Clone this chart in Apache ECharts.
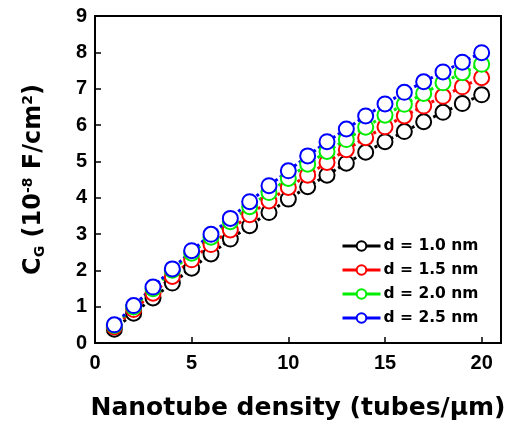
<!DOCTYPE html>
<html><head><meta charset="utf-8">
<script src="https://cdn.jsdelivr.net/npm/echarts@6/dist/echarts.min.js"></script>
<style>html,body{margin:0;padding:0;background:#fff}#c{width:509px;height:427px}</style>
</head><body><div id="c"></div>
<script>
const density = [1,2,3,4,5,6,7,8,9,10,11,12,13,14,15,16,17,18,19,20];
const d10 = [0.38,0.82,1.24,1.65,2.06,2.45,2.86,3.23,3.59,3.96,4.30,4.62,4.95,5.25,5.54,5.82,6.09,6.35,6.59,6.83];
const d15 = [0.44,0.92,1.37,1.83,2.29,2.71,3.11,3.53,3.91,4.28,4.62,4.97,5.32,5.65,5.95,6.25,6.52,6.79,7.05,7.30];
const d20 = [0.48,0.99,1.49,2.00,2.47,2.91,3.34,3.75,4.14,4.53,4.92,5.27,5.60,5.94,6.27,6.57,6.87,7.16,7.44,7.67];
const d25 = [0.50,1.03,1.54,2.04,2.54,2.99,3.43,3.89,4.33,4.74,5.15,5.54,5.89,6.25,6.58,6.90,7.19,7.46,7.73,7.99];
const seriesNames = ['d = 1.0 nm','d = 1.5 nm','d = 2.0 nm','d = 2.5 nm'];
const seriesColors = ['#000000','#ff0000','#00ee00','#0000ff'];
const seriesData = [d10,d15,d20,d25];

const F = 'Liberation Sans, Arial, sans-serif';
const W = 'DejaVu Sans, sans-serif';
const chart = echarts.init(document.getElementById('c'));
chart.setOption({
  animation:false,
  backgroundColor:'#fff',
  grid:{left:95,top:16,right:8,bottom:84,show:true,borderColor:'#000',borderWidth:2,backgroundColor:'transparent'},
  legend:{
    data:seriesNames, orient:'vertical', left:336, top:233, itemWidth:38, itemHeight:12, itemGap:8,
    textStyle:{fontFamily:W,fontWeight:'bold',fontSize:15.5,color:'#000',padding:[0,0,0,-2]},
    lineStyle:{type:'solid',width:3}
  },
  xAxis:{
    type:'value',min:0,max:21,interval:5,
    axisLine:{show:true,lineStyle:{color:'#000',width:2}},
    axisTick:{show:true,inside:true,length:6,lineStyle:{color:'#000',width:1.5}},
    axisLabel:{fontFamily:F,fontWeight:'bold',fontSize:20,color:'#000',margin:10,
      formatter:v=> v>20?'':String(v)},
    splitLine:{show:false},
    name:'Nanotube density (tubes/\u03bcm)',nameLocation:'middle',nameGap:53,
    nameTextStyle:{fontFamily:W,fontWeight:'bold',fontSize:25,color:'#000'}
  },
  yAxis:{
    type:'value',min:0,max:9,interval:1,
    axisLine:{show:true,lineStyle:{color:'#000',width:2}},
    axisTick:{show:true,inside:true,length:6,lineStyle:{color:'#000',width:1.5}},
    axisLabel:{fontFamily:F,fontWeight:'bold',fontSize:20,color:'#000',margin:8},
    splitLine:{show:false},
    name:'{m|C}{sub|G}{m| (10}{sup|-8}{m| F/cm}{sup|2}{m|)}',nameLocation:'middle',nameGap:48,nameRotate:90,
    nameTextStyle:{fontFamily:W,fontWeight:'bold',fontSize:24,color:'#000',
      rich:{
        m:{fontFamily:W,fontWeight:'bold',fontSize:24,color:'#000'},
        sub:{fontFamily:W,fontWeight:'bold',fontSize:14,color:'#000',verticalAlign:'bottom',padding:[12,0,0,0]},
        sup:{fontFamily:W,fontWeight:'bold',fontSize:14,color:'#000',verticalAlign:'top',padding:[0,0,12,0]}
      }}
  },
  series: seriesNames.map((n,i)=>({
    name:n,type:'line',data:density.map((x,j)=>[x,seriesData[i][j]]),
    symbol:'emptyCircle',symbolSize:15,
    itemStyle:{color:seriesColors[i],borderWidth:2.4},
    lineStyle:{color:seriesColors[i],type:'dotted',width:3}
  }))
});
</script></body></html>
